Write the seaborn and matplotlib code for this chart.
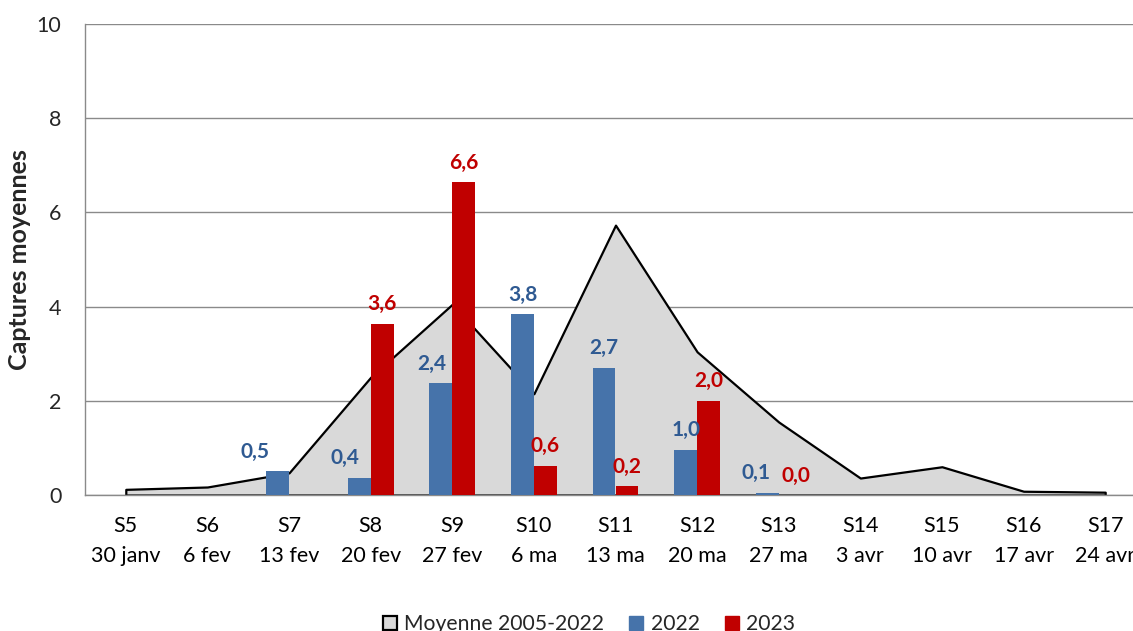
import numpy as np
import pandas as pd
import matplotlib
matplotlib.use("Agg")
import matplotlib.pyplot as plt
from matplotlib.patches import Patch
import seaborn as sns

# Weekly categories (week number + start date)
weeks = ["S5", "S6", "S7", "S8", "S9", "S10", "S11", "S12", "S13", "S14", "S15", "S16", "S17"]
dates = ["30 janv", "6 fev", "13 fev", "20 fev", "27 fev", "6 ma", "13 ma", "20 ma", "27 ma",
         "3 avr", "10 avr", "17 avr", "24 avr"]

# Mean catches 2005-2022 (area)
moyenne = [0.12, 0.17, 0.47, 2.5, 4.05, 2.15, 5.73, 3.04, 1.55, 0.36, 0.60, 0.08, 0.06]
# Yearly catches (None = no trapping that week)
y2022 = [None, None, 0.5, 0.37, 2.37, 3.84, 2.70, 0.96, 0.05, None, None, None, None]
y2023 = [None, None, None, 3.64, 6.64, 0.62, 0.19, 2.0, 0.0, None, None, None, None]

BLUE = "#4673AA"
BLUE_TXT = "#2F5A92"
RED = "#C00000"
GREY = "#D9D9D9"

sns.set_style("white")
plt.rcParams["font.family"] = ["Lato", "DejaVu Sans"]

fig = plt.figure(figsize=(11.33, 6.31), dpi=100)
W, H = 1133, 631
ax = fig.add_axes([85 / W, (H - 495) / H, 1061 / W, 471 / H])

xlabels = [f"{w}\n{d}" for w, d in zip(weeks, dates)]

# Long-form table for the bars
rows = []
for lab, vals in (("2022", y2022), ("2023", y2023)):
    for xl, v in zip(xlabels, vals):
        if v is not None:
            rows.append({"semaine": xl, "annee": lab, "captures": v})
df = pd.DataFrame(rows)

# Mean area behind the bars
xpos = np.arange(len(weeks))
ax.fill_between(xpos, moyenne, 0, facecolor=GREY, edgecolor="black", linewidth=1.6, zorder=2)

sns.barplot(data=df, x="semaine", y="captures", hue="annee", order=xlabels,
            hue_order=["2022", "2023"], palette=[BLUE, RED], width=0.56,
            dodge=True, saturation=1, errorbar=None, legend=False, ax=ax, zorder=3,
            linewidth=0)

# Value labels above bars
label_dx = {("2022", 2): -16, ("2022", 3): -10, ("2022", 4): -6.5,
            ("2022", 8): -8, ("2023", 8): 4}
series = {"2022": (y2022, BLUE_TXT), "2023": (y2023, RED)}
for cont, name in zip(ax.containers, ["2022", "2023"]):
    vals, col = series[name]
    for bar in cont:
        cx = bar.get_x() + bar.get_width() / 2
        ci = int(round(cx))
        v = vals[ci]
        if v is None:
            continue
        ax.annotate(f"{v:.1f}".replace(".", ","), xy=(cx, v),
                    xytext=(label_dx.get((name, ci), 0), 14), textcoords="offset points",
                    ha="center", va="center", fontsize=15, fontweight="bold", color=col,
                    zorder=5)

# Axes styling
ax.set_ylim(0, 10)
ax.set_xlim(-0.5, len(weeks) - 0.5)
ax.set_yticks([0, 2, 4, 6, 8, 10])
ax.set_yticklabels(["0", "2", "4", "6", "8", "10"])
ax.yaxis.grid(True, color="#8A8A8A", linewidth=1.0)
ax.set_axisbelow(True)
ax.set_xticks(xpos)
ax.set_xticklabels(xlabels, linespacing=1.65)
ax.set_xticks(np.arange(-0.5, len(weeks), 1), minor=True)
ax.tick_params(axis="x", which="major", length=0, pad=15, labelsize=15.5, colors="black")
ax.tick_params(axis="x", which="minor", length=7, width=1, color="#8A8A8A", direction="out")
ax.tick_params(axis="y", length=7, width=1, color="#8A8A8A", pad=10, labelsize=15.5, direction="out")
ax.set_xlabel("")
ax.set_ylabel("Captures moyennes", fontsize=18, fontweight="bold", labelpad=4)
for side in ("top", "right"):
    ax.spines[side].set_visible(False)
for side in ("left", "bottom"):
    ax.spines[side].set_color("#8A8A8A")
    ax.spines[side].set_linewidth(1.0)

handles = [Patch(facecolor=GREY, edgecolor="black", linewidth=1.6, label="Moyenne 2005-2022"),
           Patch(facecolor=BLUE, edgecolor=BLUE, label="2022"),
           Patch(facecolor=RED, edgecolor=RED, label="2023")]
fig.legend(handles=handles, loc="center", bbox_to_anchor=(589 / W, 1 - 624 / H), ncol=3,
           frameon=False, fontsize=15.2, handlelength=0.65, handleheight=0.65,
           handletextpad=0.35, columnspacing=1.2)

fig.savefig("out.png", dpi=100)
